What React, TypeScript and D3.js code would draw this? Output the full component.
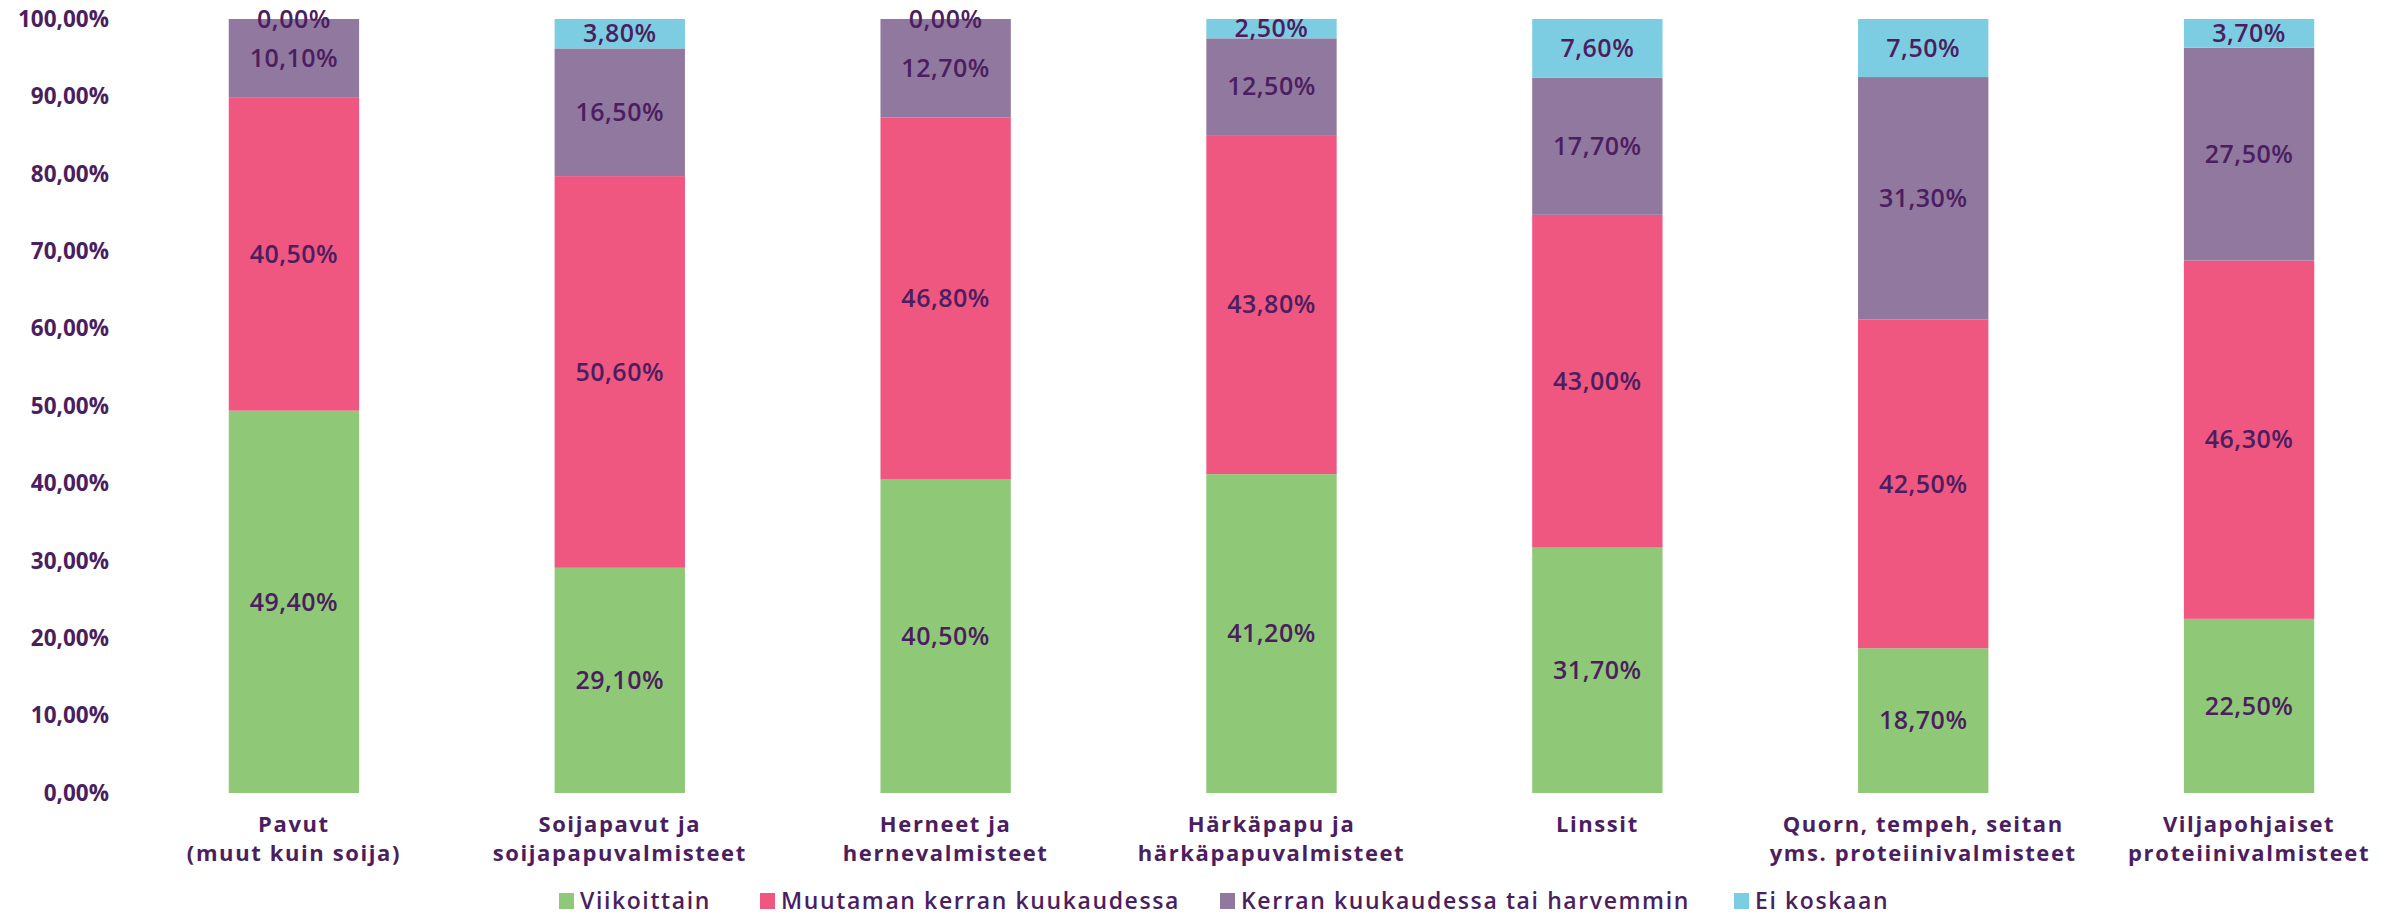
import React, { useEffect, useRef } from 'react';
import * as d3 from 'd3';

const categories = [
  ['Pavut', '(muut kuin soija)'],
  ['Soijapavut ja', 'soijapapuvalmisteet'],
  ['Herneet ja', 'hernevalmisteet'],
  ['Härkäpapu ja', 'härkäpapuvalmisteet'],
  ['Linssit'],
  ['Quorn, tempeh, seitan', 'yms. proteiinivalmisteet'],
  ['Viljapohjaiset', 'proteiinivalmisteet'],
];

const seriesNames = ['Viikoittain', 'Muutaman kerran kuukaudessa', 'Kerran kuukaudessa tai harvemmin', 'Ei koskaan'];
const viikoittain = [49.4, 29.1, 40.5, 41.2, 31.7, 18.7, 22.5];
const muutaman = [40.5, 50.6, 46.8, 43.8, 43.0, 42.5, 46.3];
const kerran = [10.1, 16.5, 12.7, 12.5, 17.7, 31.3, 27.5];
const eiKoskaan = [0.0, 3.8, 0.0, 2.5, 7.6, 7.5, 3.7];
const yTicks = [0, 10, 20, 30, 40, 50, 60, 70, 80, 90, 100];

const COLORS = ['#8fc977', '#ef5781', '#91789f', '#7dcde2'];
const TEXT = '#4b1e5f';
const FONT = "'Open Sans', 'Noto Sans', sans-serif";

const W = 2395;
const H = 915;

const App: React.FC = () => {
  const svgRef = useRef<SVGSVGElement>(null);

  useEffect(() => {
    if (!svgRef.current) return;
    const svg = d3.select(svgRef.current);
    svg.selectAll('*').remove();

    const fmt = (v: number) => v.toFixed(2).replace('.', ',') + '%';

    const rows = categories.map((c, i) => ({
      key: String(i),
      v0: viikoittain[i],
      v1: muutaman[i],
      v2: kerran[i],
      v3: eiKoskaan[i],
    }));
    const stack = d3.stack<any>().keys(['v0', 'v1', 'v2', 'v3'])(rows);

    const x = d3
      .scaleBand()
      .domain(rows.map((r) => r.key))
      .range([131, 2412])
      .paddingInner(0.6)
      .paddingOuter(0.3);

    const y = d3.scaleLinear().domain([0, 100]).range([793, 19]);

    // y axis labels
    svg
      .append('g')
      .selectAll('text')
      .data(yTicks)
      .join('text')
      .attr('x', 109)
      .attr('y', (d) => y(d))
      .attr('dy', '0.35em')
      .attr('text-anchor', 'end')
      .attr('fill', TEXT)
      .attr('font-family', FONT)
      .attr('font-weight', 700)
      .attr('font-size', 22.5)
      .text((d) => fmt(d));

    // stacked bars
    const layers = svg
      .append('g')
      .selectAll('g')
      .data(stack)
      .join('g')
      .attr('fill', (_, i) => COLORS[i]);

    layers
      .selectAll('rect')
      .data((d) => d)
      .join('rect')
      .attr('x', (d: any) => x(d.data.key)!)
      .attr('width', x.bandwidth())
      .attr('y', (d) => y(d[1]))
      .attr('height', (d) => y(d[0]) - y(d[1]));

    // segment labels
    const labels = svg.append('g');
    stack.forEach((layer) => {
      labels
        .append('g')
        .selectAll('text')
        .data(layer)
        .join('text')
        .attr('x', (d: any) => x(d.data.key)! + x.bandwidth() / 2)
        .attr('y', (d) => y((d[0] + d[1]) / 2))
        .attr('dy', '0.35em')
        .attr('text-anchor', 'middle')
        .attr('fill', TEXT)
        .attr('font-family', FONT)
        .attr('font-weight', 600)
        .attr('font-size', 25)
        .attr('letter-spacing', 0.5)
        .text((d) => fmt(d[1] - d[0]));
    });

    // category labels
    const cats = svg
      .append('g')
      .selectAll('text')
      .data(categories)
      .join('text')
      .attr('x', (_, i) => x(String(i))! + x.bandwidth() / 2)
      .attr('y', 832)
      .attr('text-anchor', 'middle')
      .attr('fill', TEXT)
      .attr('font-family', FONT)
      .attr('font-weight', 700)
      .attr('font-size', 22)
      .attr('letter-spacing', 1.6);
    cats
      .selectAll('tspan')
      .data((d) => d)
      .join('tspan')
      .attr('x', function () {
        return (this.parentNode as SVGTextElement).getAttribute('x');
      })
      .attr('dy', (_, j) => (j === 0 ? 0 : 29))
      .text((d) => d);

    // legend
    const legendX = [559, 760, 1220, 1734];
    const lg = svg
      .append('g')
      .selectAll('g')
      .data(seriesNames)
      .join('g')
      .attr('transform', (_, i) => `translate(${legendX[i]},901)`);
    lg.append('rect')
      .attr('x', 0)
      .attr('y', -8)
      .attr('width', 15)
      .attr('height', 16)
      .attr('fill', (_, i) => COLORS[i]);
    lg.append('text')
      .attr('x', 21)
      .attr('y', 0)
      .attr('dy', '0.35em')
      .attr('fill', TEXT)
      .attr('font-family', FONT)
      .attr('font-weight', 600)
      .attr('font-size', 23)
      .attr('letter-spacing', 1.6)
      .text((d) => d);
  }, []);

  return (
    <div style={{ position: 'absolute', left: 0, top: 0, width: W, height: H, background: '#fff' }}>
      <svg ref={svgRef} width={W} height={H} />
    </div>
  );
};

export default App;
